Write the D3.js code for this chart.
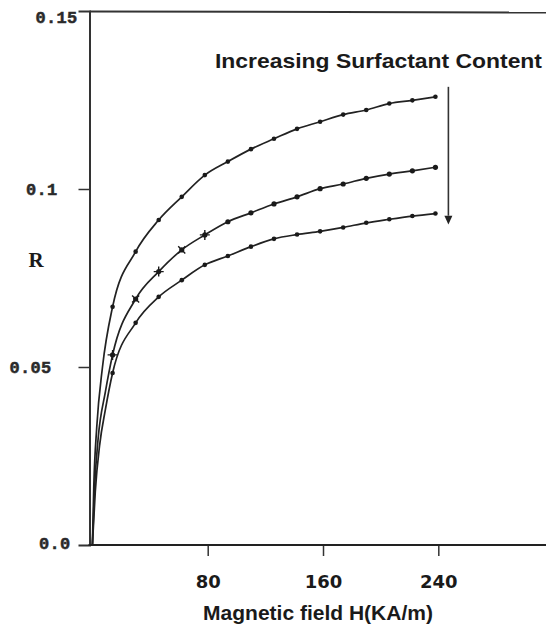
<!DOCTYPE html>
<html>
<head>
<meta charset="utf-8">
<script src="https://cdn.jsdelivr.net/npm/d3@7"></script>
<style>
  body { margin: 0; background: #fff; }
</style>
</head>
<body>
<div id="chart"></div>
<script>
// measured points, shared field values (KA/m)
var fieldH = [14, 30, 46, 62, 78, 94, 110, 126, 142, 158, 174, 190, 206, 222, 238];
var rLow  = [0.0669, 0.0824, 0.0913, 0.0978, 0.1039, 0.1077, 0.1112, 0.1141, 0.1169, 0.1189, 0.1209, 0.1222, 0.1240, 0.1249, 0.1259];
var rMid  = [0.0534, 0.0691, 0.0768, 0.0829, 0.0871, 0.0908, 0.0933, 0.0958, 0.0978, 0.1001, 0.1014, 0.1030, 0.1042, 0.1051, 0.1061];
var rHigh = [0.0483, 0.0624, 0.0697, 0.0744, 0.0787, 0.0812, 0.0838, 0.0860, 0.0872, 0.0881, 0.0892, 0.0905, 0.0915, 0.0924, 0.0931];

// fitted line traced near the origin, where the curves go up almost vertical
var leadLow  = [[0, 0], [1, 0.017], [3, 0.033], [7, 0.050]];
var leadMid  = [[0, 0], [1.5, 0.016], [4, 0.030], [9, 0.043]];
var leadHigh = [[0, 0], [2, 0.015], [5, 0.028], [9, 0.038]];

var xTicks = [80, 160, 240];
var yTicks = [0, 0.05, 0.1, 0.15];
var yTickLabels = ["0.0", "0.05", "0.1", "0.15"];

var w = 546, h = 628;
var svg = d3.select("#chart").append("svg")
    .attr("width", w)
    .attr("height", h);

var x = d3.scaleLinear().domain([0, 315]).range([92.4, 546.4]);
var y = d3.scaleLinear().domain([0, 0.15]).range([545, 11]);

var ink = "#1a1a1a";

// frame: top border, y axis, x axis
svg.append("line")
    .attr("x1", 89.5).attr("x2", w).attr("y1", 11.5).attr("y2", 12.5)
    .attr("stroke", "#333").attr("stroke-width", 2);

var yAxis = svg.append("g")
    .attr("transform", "translate(89.5,0)")
    .call(d3.axisLeft(y).tickValues(yTicks).tickSize(11).tickPadding(14)
      .tickFormat((d, i) => yTickLabels[i]));
yAxis.select(".domain").attr("stroke", "#333").attr("stroke-width", 2);
yAxis.selectAll(".tick line").attr("stroke", "#333").attr("stroke-width", 1.5)
    .attr("display", (d) => (d === 0 || d === 0.15) ? "none" : null);
// the scanned labels don't sit on one column
var yLabelShift = {0: -6, 0.05: 13, 0.1: 7, 0.15: -13};
var yLabelDrop = {0: -2, 0.05: 0, 0.1: 0, 0.15: 6};
yAxis.selectAll(".tick text")
    .attr("font-family", "'Liberation Mono', monospace")
    .attr("font-weight", "bold")
    .attr("font-size", 17)
    .attr("letter-spacing", 0.3)
    .attr("fill", "#2a2a2a")
    .attr("stroke", "#2a2a2a")
    .attr("stroke-width", 0.5)
    .attr("dx", (d) => -yLabelShift[d])
    .attr("dy", (d) => (yLabelDrop[d] + 5) + "px");

var xAxis = svg.append("g")
    .attr("transform", "translate(0,545)")
    .call(d3.axisBottom(x).tickValues(xTicks).tickSize(11).tickPadding(19));
xAxis.select(".domain").remove();
xAxis.selectAll(".tick line").attr("stroke", "#333").attr("stroke-width", 1.5);
xAxis.selectAll(".tick text")
    .attr("font-family", "'DejaVu Sans', sans-serif")
    .attr("font-weight", "bold")
    .attr("font-size", 18)
    .attr("fill", ink);
svg.append("line")
    .attr("x1", 88.5).attr("x2", w).attr("y1", 545).attr("y2", 545)
    .attr("stroke", "#222").attr("stroke-width", 2);

// curves
var line = d3.line()
    .x((d) => x(d[0]))
    .y((d) => y(d[1]))
    .curve(d3.curveMonotoneX);

var series = [
  {lead: leadLow, r: rLow},
  {lead: leadMid, r: rMid},
  {lead: leadHigh, r: rHigh}
];

series.forEach((s, k) => {
  var pts = s.lead.concat(fieldH.map((hv, i) => [hv, s.r[i]]));
  svg.append("path")
      .attr("d", line(pts))
      .attr("fill", "none")
      .attr("stroke", "#222")
      .attr("stroke-width", 1.7);

  var g = svg.append("g");
  g.selectAll("circle")
      .data(fieldH)
      .enter()
      .append("circle")
      .attr("cx", (d) => x(d))
      .attr("cy", (d, i) => y(s.r[i]))
      .attr("r", k === 1 ? 2.6 : 2.3)
      .attr("fill", ink);

  if (k === 1) {
    // the middle set uses little crosses on its first points
    g.selectAll("path.cross")
        .data(fieldH.slice(0, 5))
        .enter()
        .append("path")
        .attr("class", "cross")
        .attr("d", (d, i) => {
          var cx = x(d), cy = y(s.r[i]);
          return "M" + (cx - 5) + "," + cy + "H" + (cx + 5) +
                 "M" + cx + "," + (cy - 5) + "V" + (cy + 5);
        })
        .attr("transform", (d, i) => "rotate(" + (i % 2 ? 45 : 0) + "," + x(d) + "," + y(s.r[i]) + ")")
        .attr("stroke", ink)
        .attr("stroke-width", 1.4);
  }
});

// annotation arrow
var ax = x(247);
svg.append("line")
    .attr("x1", ax).attr("x2", ax)
    .attr("y1", y(0.1287)).attr("y2", y(0.0925))
    .attr("stroke", "#333").attr("stroke-width", 1.6);
svg.append("path")
    .attr("d", "M" + (ax - 4) + "," + y(0.0925) + "L" + (ax + 4) + "," + y(0.0925) +
               "L" + ax + "," + y(0.0900) + "Z")
    .attr("fill", "#222");

svg.append("text")
    .attr("x", 215)
    .attr("y", 68)
    .attr("font-family", "'Liberation Sans', Arial, sans-serif")
    .attr("font-weight", "bold")
    .attr("font-size", 21)
    .attr("textLength", 327)
    .attr("lengthAdjust", "spacingAndGlyphs")
    .attr("fill", ink)
    .text("Increasing Surfactant Content");

// axis titles
svg.append("text")
    .attr("x", 318)
    .attr("y", 620)
    .attr("text-anchor", "middle")
    .attr("font-family", "'Liberation Sans', Arial, sans-serif")
    .attr("font-weight", "bold")
    .attr("font-size", 21)
    .attr("fill", ink)
    .text("Magnetic field H(KA/m)");

svg.append("text")
    .attr("x", 36)
    .attr("y", 267)
    .attr("text-anchor", "middle")
    .attr("font-family", "'Liberation Serif', 'Times New Roman', serif")
    .attr("font-weight", "bold")
    .attr("font-size", 21)
    .attr("fill", ink)
    .text("R");
</script>
</body>
</html>
